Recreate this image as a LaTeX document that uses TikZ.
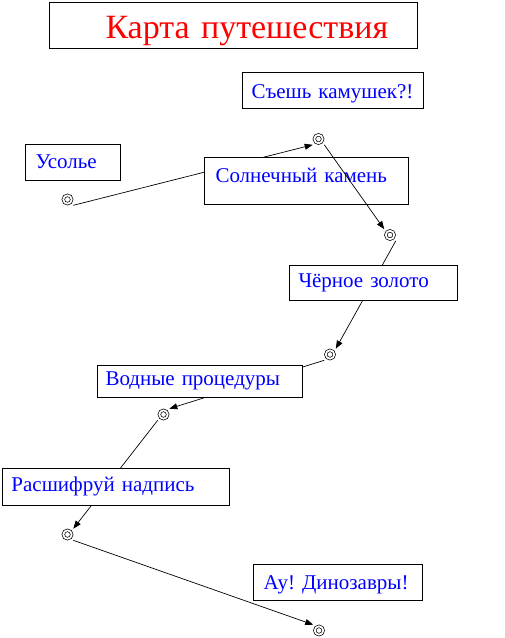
\documentclass[tikz,border=0pt]{standalone}
\usepackage{fontspec}
\setmainfont{Liberation Serif}
\usetikzlibrary{arrows.meta}
\frenchspacing
\begin{document}
\begin{tikzpicture}[x=1pt,y=-1pt,
  pt/.style={circle,draw,double,line width=0.7pt,double distance=1.8pt,minimum size=8.4pt,inner sep=0pt,outer sep=4pt},
  lbl/.style={draw,fill=white,line width=1pt,anchor=base west,inner sep=0pt,align=left,text=blue,font=\fontsize{21}{25}\selectfont},
  ttl/.style={lbl,text=red,font=\fontsize{34}{40}\selectfont},
  con/.style={line width=0.7pt,-{Triangle[length=8pt,width=6pt]}}]
\useasboundingbox (0,0) rectangle (505,638);
% waypoints
\node[pt] (c1) at (67.5,199.5) {};
\node[pt] (c2) at (318.5,139) {};
\node[pt] (c3) at (390,235) {};
\node[pt] (c4) at (330,354.5) {};
\node[pt] (c5) at (163.5,414.5) {};
\node[pt] (c6) at (67.5,534.5) {};
\node[pt] (c7) at (319,630.5) {};
% connectors behind boxes
\draw[con] (c1.south east) -- (c2.south west);
\draw[con] (c3.south east) -- (c4.north east);
\draw[con] (c4.south west) -- (c5.north east);
\draw[con] (c5.south west) -- (c6.north east);
\draw[con] (c6.south east) -- (c7.north west);
% boxes
\node[ttl, text width=368pt, text height=36pt, text depth=10pt] (title) at (49,38) {\hspace*{56pt}Карта путешествия};
\node[lbl, text width=181pt, text height=26.5pt, text depth=9.5pt] (b1) at (242,98.5) {\hspace*{9pt}Съешь камушек?!};
\node[lbl, text width=95pt, text height=24pt, text depth=12pt] (b2) at (25,168) {\hspace*{10pt}Усолье};
\node[lbl, text width=204pt, text height=25pt, text depth=22pt] (b3) at (204,182) {\hspace*{11pt}Солнечный камень};
\node[lbl, text width=168pt, text height=22pt, text depth=12.5pt] (b4) at (289,287.5) {\hspace*{9pt}Чёрное золото};
\node[lbl, text width=205pt, text height=20pt, text depth=12pt] (b5) at (97,385) {\hspace*{8pt}Водные процедуры};
\node[lbl, text width=227pt, text height=23pt, text depth=14pt] (b6) at (2,491) {\hspace*{9pt}Расшифруй надпись};
\node[lbl, text width=169pt, text height=25pt, text depth=11pt] (b7) at (253,589) {\hspace*{10pt}Ау! Динозавры!};
% connector over box
\draw[con] (c2.south east) -- (c3.north west);
\end{tikzpicture}
\end{document}
